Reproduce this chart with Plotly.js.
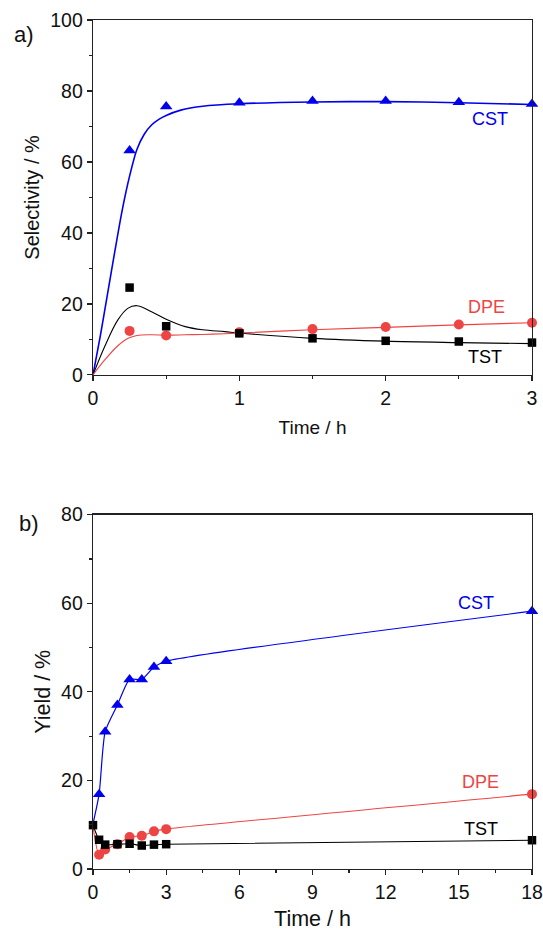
<!DOCTYPE html>
<html>
<head>
<meta charset="utf-8">
<script src="https://cdn.plot.ly/plotly-3.0.1.min.js"></script>
<style>html,body{margin:0;padding:0;background:#fff}#chart{width:543px;height:931px}</style>
</head>
<body>
<div id="chart"></div>
<script>
// ---- Panel a) Selectivity (measured points) ----
const timeA = [0.25, 0.5, 1, 1.5, 2, 2.5, 3];
const cstSelA = [63.2, 75.6, 76.7, 77.2, 77.2, 76.8, 76.3];
const tstSelA = [24.6, 13.7, 11.7, 10.3, 9.6, 9.4, 9.1];
const dpeSelA = [12.4, 11.1, 12.0, 12.9, 13.5, 14.2, 14.7];
// ---- Panel a) fitted curves (read from the picture) ----
const fitTimeCST = [0, 0.05, 0.1, 0.15, 0.2, 0.25, 0.3, 0.35, 0.4, 0.45, 0.5, 0.6, 0.75, 1.0, 1.5, 2.0, 2.5, 3.0];
const fitCST     = [0, 11, 23, 35, 46.5, 56, 63.5, 67.8, 70.4, 72.0, 73.1, 74.6, 75.7, 76.4, 76.9, 77.0, 76.7, 76.2];
const fitTime    = [0, 0.08, 0.17, 0.24, 0.3, 0.4, 0.5, 0.63, 0.75, 0.9, 1.0, 1.5, 2.0, 2.5, 3.0];
const fitTST     = [0, 8.0, 15.5, 18.8, 19.5, 17.8, 15.7, 13.6, 12.7, 12.2, 11.8, 10.3, 9.5, 9.1, 8.8];
const fitDPE     = [0, 4.2, 8.2, 10.3, 11.1, 11.3, 11.2, 11.3, 11.4, 11.6, 11.8, 12.7, 13.4, 14.1, 14.7];

// ---- Panel b) Yield ----
const timeB = [0.25, 0.5, 1, 1.5, 2, 2.5, 3, 18];
const cstYieldB = [16.9, 31.0, 37.0, 42.8, 42.8, 45.6, 46.9, 58.2];
const dpeYieldB = [3.2, 4.4, 5.6, 7.2, 7.5, 8.5, 9.0, 16.9];
const tstYieldB = [6.6, 5.5, 5.6, 5.7, 5.3, 5.5, 5.6, 6.5];
const startTimeB = 0;
const cstStartB = 10.2, dpeStartB = 9.5, tstStartB = 9.9;

const labels = ["CST", "DPE", "TST"];

const BLUE = "#0000ee", RED = "#ee4444", BLACK = "#000000";
const FONT = "Liberation Sans, Arial, sans-serif";

const traces = [
  // panel a curves
  {x: fitTimeCST, y: fitCST, xaxis:"x", yaxis:"y", mode:"lines", line:{color:BLUE, width:1.6, shape:"spline", smoothing:0.8}, hoverinfo:"skip"},
  {x: fitTime, y: fitTST, xaxis:"x", yaxis:"y", mode:"lines", line:{color:BLACK, width:1.1, shape:"spline"}, hoverinfo:"skip"},
  {x: fitTime, y: fitDPE, xaxis:"x", yaxis:"y", mode:"lines", line:{color:RED, width:1.1, shape:"spline"}, hoverinfo:"skip"},
  // panel a points
  {x: timeA, y: dpeSelA, xaxis:"x", yaxis:"y", mode:"markers", marker:{symbol:"circle", size:10, color:RED}, cliponaxis:false},
  {x: timeA, y: tstSelA, xaxis:"x", yaxis:"y", mode:"markers", marker:{symbol:"square", size:8.5, color:BLACK}, cliponaxis:false},
  {x: timeA, y: cstSelA, xaxis:"x", yaxis:"y", mode:"markers", marker:{symbol:"triangle-up", size:11, color:BLUE}, cliponaxis:false},
  // panel b
  {x: [startTimeB].concat(timeB), y: [dpeStartB].concat(dpeYieldB), xaxis:"x2", yaxis:"y2", mode:"lines", line:{color:RED, width:1.1, shape:"spline", smoothing:0.6}, hoverinfo:"skip"},
  {x: timeB, y: dpeYieldB, xaxis:"x2", yaxis:"y2", mode:"markers", marker:{symbol:"circle", size:10, color:RED}, cliponaxis:false},
  {x: [startTimeB].concat(timeB), y: [cstStartB].concat(cstYieldB), xaxis:"x2", yaxis:"y2", mode:"lines", line:{color:BLUE, width:1.2, shape:"spline", smoothing:0.6}, hoverinfo:"skip"},
  {x: timeB, y: cstYieldB, xaxis:"x2", yaxis:"y2", mode:"markers", marker:{symbol:"triangle-up", size:11, color:BLUE}, cliponaxis:false},
  {x: [startTimeB].concat(timeB), y: [tstStartB].concat(tstYieldB), xaxis:"x2", yaxis:"y2", mode:"lines+markers", line:{color:BLACK, width:1.1, shape:"spline", smoothing:0.6}, marker:{symbol:"square", size:8.5, color:BLACK}, cliponaxis:false}
];

const axisCommon = {
  showgrid:false, zeroline:false, showline:true, mirror:true,
  linecolor:"#222", linewidth:1.3,
  ticks:"outside", ticklen:5, tickwidth:1.2, tickcolor:"#222",
  tickfont:{family:FONT, size:19.5, color:"#111"}
};

const layout = {
  width:543, height:931,
  margin:{l:93, r:11, t:20, b:62},
  paper_bgcolor:"#fff", plot_bgcolor:"#fff",
  showlegend:false,
  font:{family:FONT, color:"#111"},
  xaxis: Object.assign({}, axisCommon, {
    domain:[0,1], anchor:"y", range:[0,3], tickvals:[0,1,2,3],
    minor:{dtick:0.5, ticks:"outside", ticklen:3, tickcolor:"#222"},
    title:{text:"Time / h", font:{family:FONT, size:19, color:"#111"}, standoff:13}
  }),
  yaxis: Object.assign({}, axisCommon, {
    domain:[0.582,1], anchor:"x", range:[0,100], dtick:20,
    minor:{dtick:10, ticks:"outside", ticklen:3, tickcolor:"#222"},
    title:{text:"Selectivity / %", font:{family:FONT, size:20, color:"#111"}, standoff:5}
  }),
  xaxis2: Object.assign({}, axisCommon, {
    domain:[0,1], anchor:"y2", range:[0,18], dtick:3,
    minor:{dtick:1.5, ticks:"outside", ticklen:3, tickcolor:"#222"},
    title:{text:"Time / h", font:{family:FONT, size:21.5, color:"#111"}, standoff:14}
  }),
  yaxis2: Object.assign({}, axisCommon, {
    domain:[0,0.4174], anchor:"x2", range:[0,80], dtick:20,
    minor:{dtick:10, ticks:"outside", ticklen:3, tickcolor:"#222"},
    title:{text:"Yield / %", font:{family:FONT, size:21.5, color:"#111"}, standoff:4}
  }),
  annotations:[
    {xref:"x", yref:"y", x:2.71, y:72.2, text:labels[0], showarrow:false, font:{family:FONT, size:18, color:BLUE}},
    {xref:"x", yref:"y", x:2.69, y:19.2, text:labels[1], showarrow:false, font:{family:FONT, size:18, color:RED}},
    {xref:"x", yref:"y", x:2.68, y:5.1, text:labels[2], showarrow:false, font:{family:FONT, size:18, color:BLACK}},
    {xref:"x2", yref:"y2", x:15.7, y:60.0, text:labels[0], showarrow:false, font:{family:FONT, size:18, color:BLUE}},
    {xref:"x2", yref:"y2", x:15.9, y:19.6, text:labels[1], showarrow:false, font:{family:FONT, size:18, color:RED}},
    {xref:"x2", yref:"y2", x:15.9, y:9.0, text:labels[2], showarrow:false, font:{family:FONT, size:18, color:BLACK}},
    {xref:"paper", yref:"paper", x:-0.1845, y:0.983, xanchor:"left", yanchor:"middle", text:"a)", showarrow:false, font:{family:FONT, size:22, color:"#111"}},
    {xref:"paper", yref:"paper", x:-0.173, y:0.4064, xanchor:"left", yanchor:"middle", text:"b)", showarrow:false, font:{family:FONT, size:22, color:"#111"}}
  ]
};

Plotly.newPlot("chart", traces, layout, {staticPlot:true, displayModeBar:false});
</script>
</body>
</html>
